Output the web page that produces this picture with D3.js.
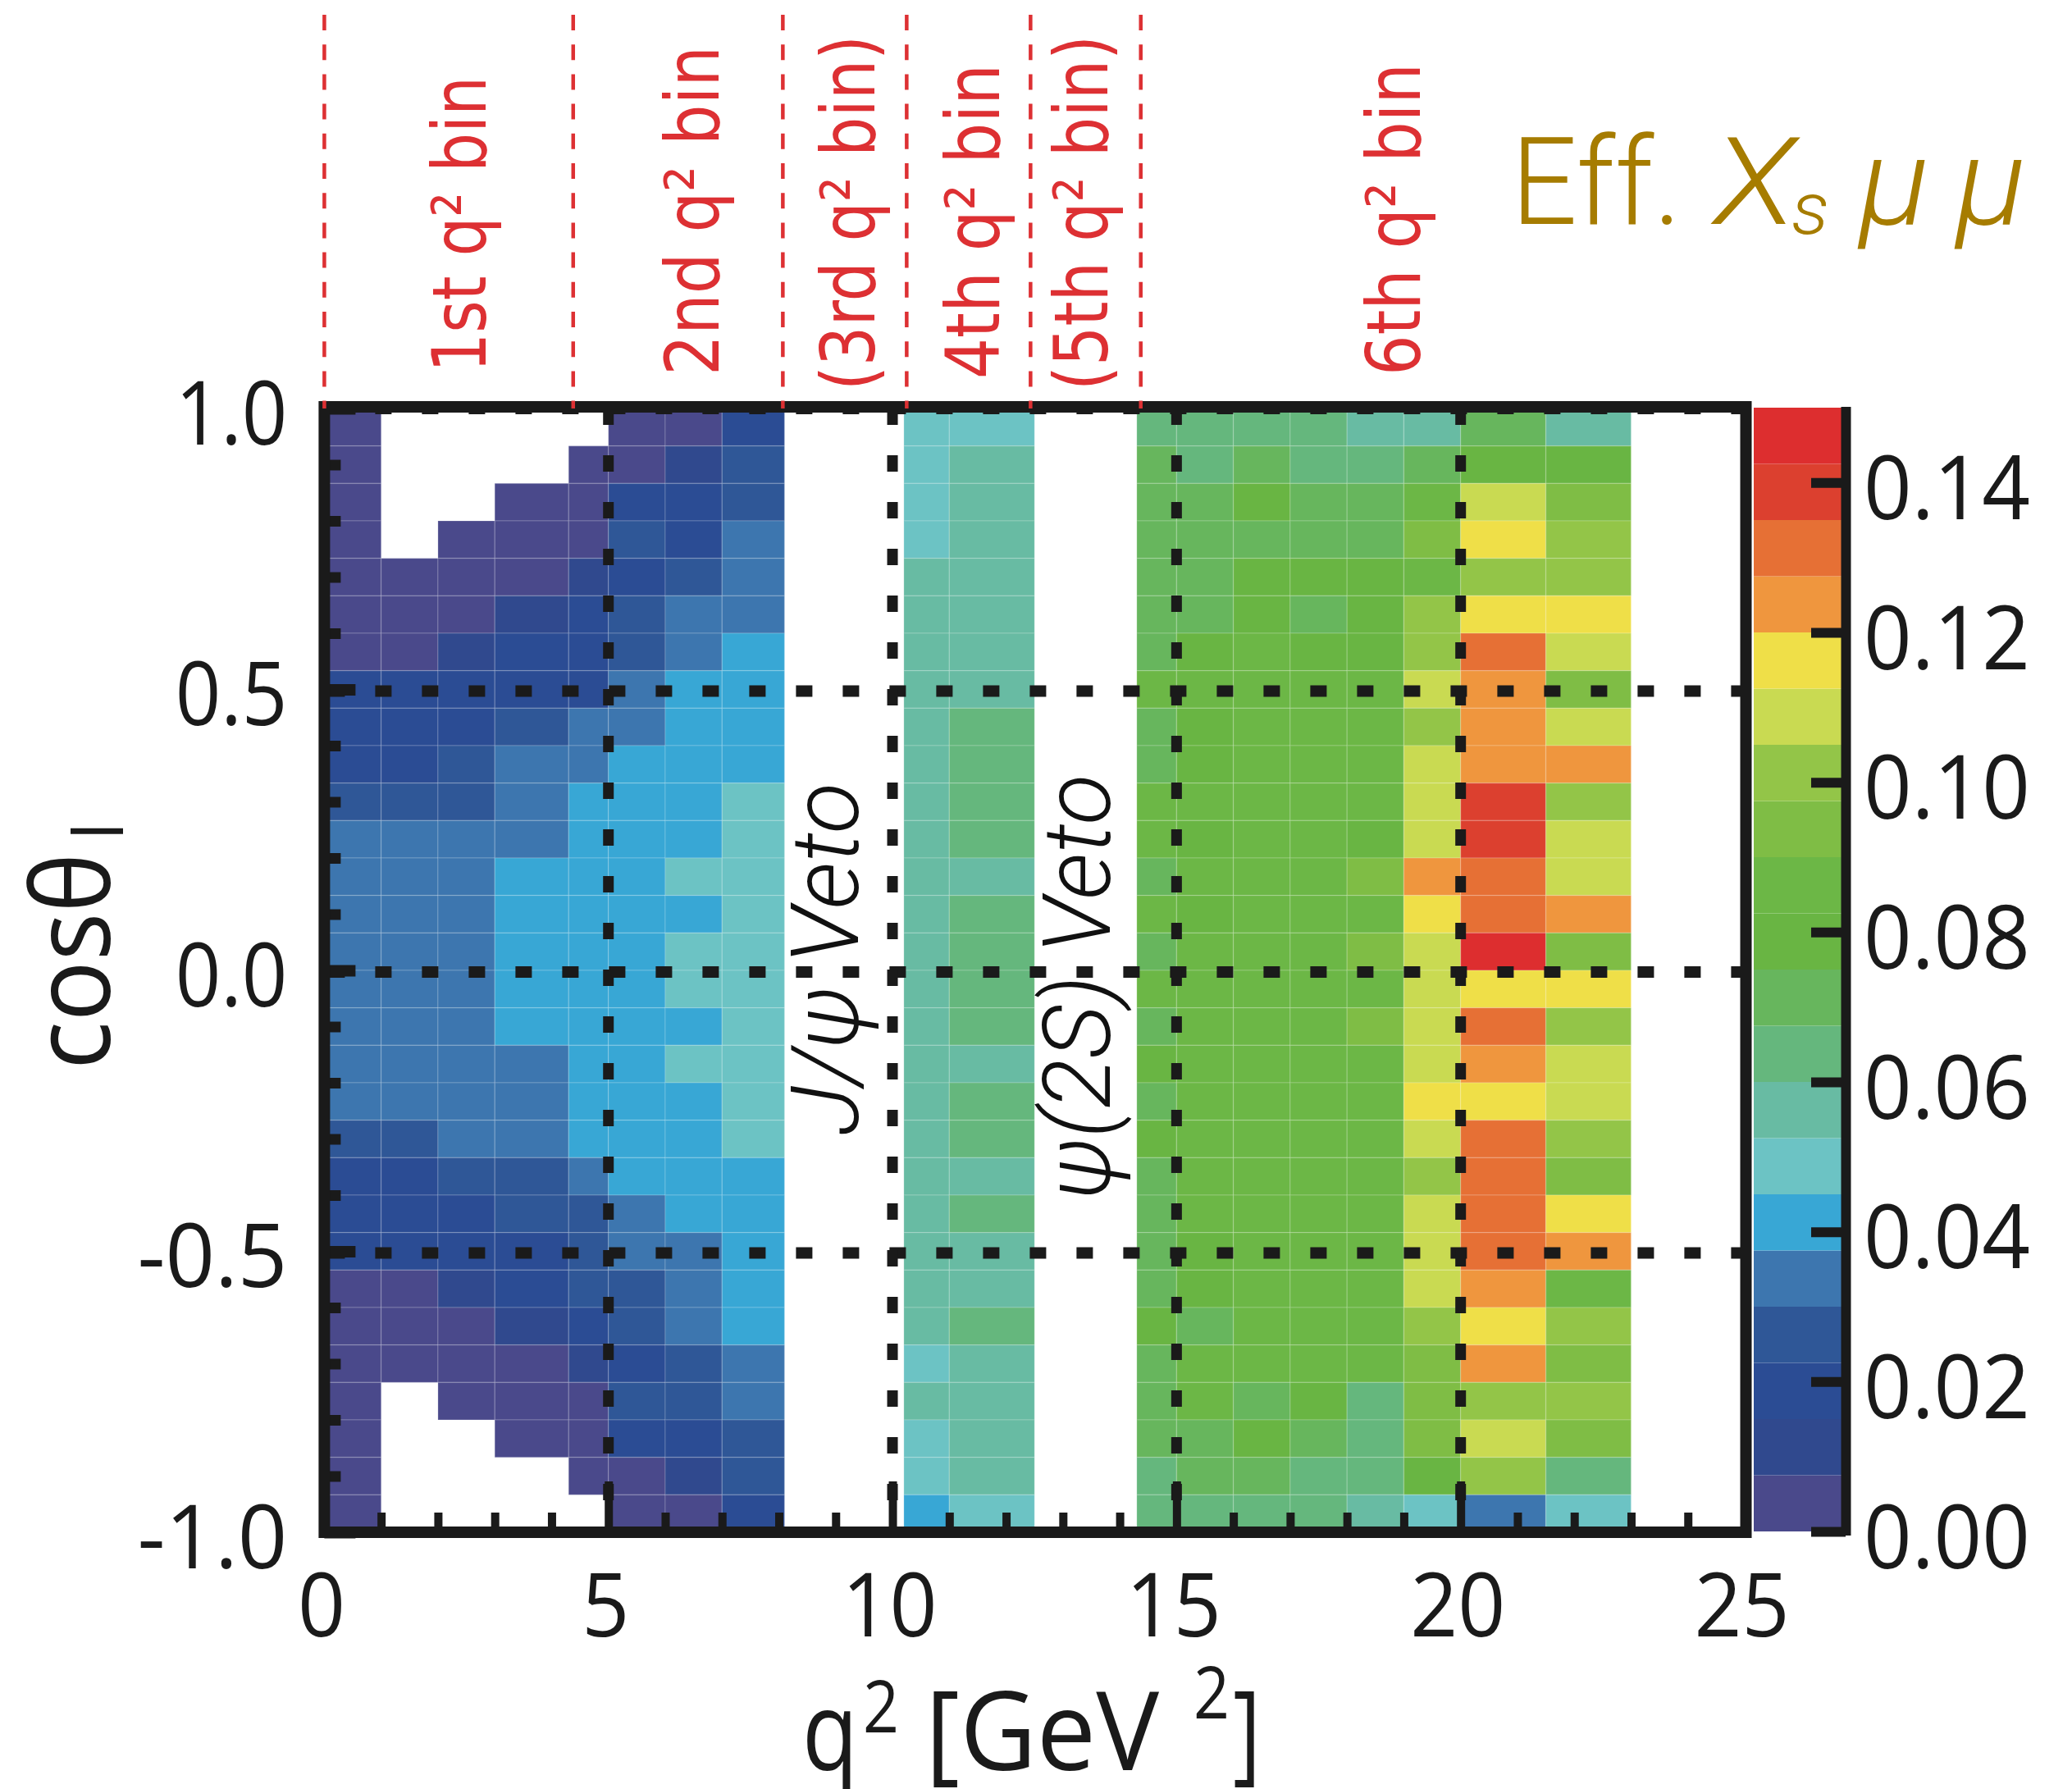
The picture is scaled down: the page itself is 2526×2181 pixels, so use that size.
<!DOCTYPE html>
<html>
<head>
<meta charset="utf-8">
<script src="https://cdn.jsdelivr.net/npm/d3@7"></script>
<style>
  html, body { margin: 0; padding: 0; background: #fff; }
  svg { display: block; }
</style>
</head>
<body>
<div id="app"></div>
<script>
// q2 bin edges of the heat map columns (8.1-10.2 and 12.5-14.3 are the vetoed regions)
const qLow  = [0, 1, 2, 3, 4.3, 5, 6, 7, 10.2, 11, 14.3, 15, 16, 17, 18, 19, 20, 21.5];
const qHigh = [1, 2, 3, 4.3, 5, 6, 7, 8.1, 11, 12.5, 15, 16, 17, 18, 19, 20, 21.5, 23];

// efficiency per column, top row (cos = 1) first, null = no entry
const _ = null;
const col0 = [.004,.004,.004,.004,.004,.004,.004,.019,.019,.019,.026,.034,.034,.034,.034,.034,.034,.034,.034,.026,.019,.019,.019,.004,.004,.004,.004,.004,.004,.004];
const col1 = [_,_,_,_,.004,.004,.004,.019,.019,.019,.026,.034,.034,.034,.034,.034,.034,.034,.034,.026,.019,.019,.019,.004,.004,.004,_,_,_,_];
const col2 = [_,_,_,.004,.004,.004,.011,.019,.019,.026,.026,.034,.034,.034,.034,.034,.034,.034,.034,.034,.026,.019,.019,.011,.004,.004,.004,_,_,_];
const col3 = [_,_,.004,.004,.004,.011,.019,.019,.026,.034,.034,.034,.041,.041,.041,.041,.041,.034,.034,.034,.026,.026,.019,.019,.011,.004,.004,.004,_,_];
const col4 = [_,.004,.004,.004,.011,.019,.019,.019,.034,.034,.041,.041,.041,.041,.041,.041,.041,.041,.041,.041,.034,.026,.026,.026,.019,.011,.004,.004,.004,_];
const col5 = [.004,.004,.019,.026,.019,.026,.026,.034,.034,.041,.041,.041,.041,.041,.041,.041,.041,.041,.041,.041,.041,.034,.034,.026,.026,.019,.026,.019,.004,.004];
const col6 = [.004,.011,.019,.019,.026,.034,.034,.041,.041,.041,.041,.041,.049,.041,.049,.049,.041,.049,.041,.041,.041,.041,.034,.034,.034,.026,.026,.019,.011,.004];
const col7 = [.019,.026,.026,.034,.034,.034,.041,.041,.041,.041,.049,.049,.049,.049,.049,.049,.049,.049,.049,.049,.041,.041,.041,.041,.041,.034,.034,.026,.026,.019];
const col8 = [.049,.049,.049,.049,.056,.056,.056,.056,.056,.056,.056,.056,.056,.056,.056,.056,.056,.056,.056,.056,.056,.056,.056,.056,.056,.049,.056,.049,.049,.041];
const col9 = [.049,.056,.056,.056,.056,.056,.056,.056,.064,.064,.064,.064,.056,.064,.064,.064,.064,.056,.064,.064,.056,.064,.056,.056,.064,.056,.056,.056,.056,.049];
const col10 = [.064,.071,.071,.071,.071,.071,.071,.086,.071,.071,.086,.086,.071,.086,.071,.086,.071,.079,.071,.079,.071,.071,.071,.071,.079,.071,.071,.071,.064,.064];
const col11 = [.064,.064,.071,.071,.071,.071,.079,.086,.079,.079,.086,.079,.086,.079,.086,.086,.086,.086,.086,.086,.086,.086,.079,.079,.071,.086,.086,.071,.071,.064];
const col12 = [.064,.071,.079,.071,.079,.079,.086,.086,.086,.086,.086,.086,.086,.086,.086,.086,.086,.086,.086,.086,.086,.086,.086,.086,.086,.086,.071,.079,.071,.064];
const col13 = [.064,.064,.071,.071,.079,.071,.079,.086,.086,.086,.086,.086,.086,.086,.086,.086,.086,.086,.086,.086,.086,.086,.086,.086,.086,.086,.079,.071,.064,.064];
const col14 = [.056,.064,.071,.071,.079,.079,.079,.086,.086,.086,.086,.079,.094,.086,.094,.086,.094,.086,.086,.086,.086,.086,.086,.086,.086,.086,.064,.064,.064,.056];
const col15 = [.056,.071,.086,.094,.086,.101,.101,.109,.101,.109,.109,.109,.124,.116,.109,.109,.109,.109,.116,.109,.101,.109,.109,.109,.101,.094,.094,.094,.079,.049];
const col16 = [.071,.079,.109,.116,.101,.116,.131,.124,.124,.124,.139,.139,.131,.131,.146,.116,.131,.124,.116,.131,.131,.131,.131,.124,.116,.124,.101,.109,.101,.034];
const col17 = [.056,.079,.094,.101,.101,.116,.109,.094,.109,.124,.101,.109,.109,.124,.094,.116,.101,.109,.109,.101,.094,.116,.124,.086,.101,.094,.101,.094,.064,.049];
const columns = [col0, col1, col2, col3, col4, col5, col6, col7, col8, col9, col10, col11, col12, col13, col14, col15, col16, col17];

// colour bands, low to high
const bandColors = ['#4a498b','#30498e','#2b4c94','#2f5797','#3d76af','#38a7d5','#6cc3c4','#68bba3','#65b77d','#67b65d',
                    '#69b543','#6cb746','#7fbd45','#93c548','#c9da52','#efdf48','#ef963e','#e67035','#dc402f','#dd2e2f'];

const xTicks = [0, 5, 10, 15, 20, 25];
const yTicks = [1, 0.5, 0, -0.5, -1];
const barTicks = [0, 0.02, 0.04, 0.06, 0.08, 0.1, 0.12, 0.14];
const binBoundaries = [0, 4.38, 8.07, 10.25, 12.43, 14.37];
const dottedX = [5, 10, 15, 20];
const dottedY = [1, 0.5, 0, -0.5];

const binLabels = ['1st q\u00b2 bin', '2nd q\u00b2 bin', '(3rd q\u00b2 bin)', '4th q\u00b2 bin', '(5th q\u00b2 bin)', '6th q\u00b2 bin'];
const binLabelX = [592, 876, 1066, 1218, 1350, 1731];
const binLabelY = [454, 458, 476, 462, 476, 458];
const binLabelLen = [361, 402, 433, 384, 433, 381];

const width = 2526, height = 2181;
const black = '#1a1a1a', red = '#dd3033', gold = '#a67c00';
const labelFont = '"Open Sans", sans-serif';
const thinFont = 'Roboto, "Open Sans", sans-serif';

const svg = d3.select('#app').append('svg').attr('width', width).attr('height', height);

const x = d3.scaleLinear().domain([0, 25]).range([395.4, 2127]);
const y = d3.scaleLinear().domain([-1, 1]).range([1868, 498]);
const barY = d3.scaleLinear().domain([0, 0.15]).range([1867, 497]);
const color = d3.scaleQuantize().domain([0, 0.15]).range(bandColors);

// squeeze a text along its reading direction, the original picture is resized unevenly
const squeeze = (sel, k) => sel.each(function () {
    d3.select(this).attr('textLength', this.getComputedTextLength() * k).attr('lengthAdjust', 'spacingAndGlyphs');
});

// heat map cells
const nRows = col0.length;
const rowH = 2 / nRows;
const cells = columns.flatMap((col, c) => col.map((v, r) => ({ c, r, v }))).filter(d => d.v !== null);
svg.append('g').selectAll('rect').data(cells).join('rect')
    .attr('x', d => x(qLow[d.c]))
    .attr('width', d => x(qHigh[d.c]) - x(qLow[d.c]))
    .attr('y', d => y(1 - d.r * rowH))
    .attr('height', d => y(1 - (d.r + 1) * rowH) - y(1 - d.r * rowH))
    .attr('fill', d => color(d.v))
    .attr('stroke', '#fff').attr('stroke-opacity', 0.14).attr('stroke-width', 1.5);

// veto labels sit under the dotted lines
const vetoText = (label, bx, by, len) => svg.append('text')
    .attr('transform', `translate(${bx},${by}) rotate(-90)`)
    .attr('font-family', thinFont).attr('font-style', 'italic').attr('font-weight', 300)
    .attr('font-size', 114).attr('fill', '#111')
    .attr('textLength', len).attr('lengthAdjust', 'spacingAndGlyphs')
    .text(label);
vetoText('J/\u03c8 Veto', 1046, 1384, 430);
vetoText('\u03c8(2S) Veto', 1353, 1462, 518);

// dotted grid, the inner rows sit a touch lower in the original
const dotY = d => y(d) + (d === 1 ? 0 : 2);
svg.append('g').selectAll('line').data(dottedY).join('line')
    .attr('x1', x(0)).attr('x2', x(25))
    .attr('y1', dotY).attr('y2', dotY)
    .attr('stroke', black).attr('stroke-width', 14)
    .attr('stroke-dasharray', '20 37').attr('stroke-dashoffset', 52);
svg.append('g').selectAll('line').data(dottedX).join('line')
    .attr('x1', d => x(d)).attr('x2', d => x(d))
    .attr('y1', y(1)).attr('y2', y(-1))
    .attr('stroke', black).attr('stroke-width', 13)
    .attr('stroke-dasharray', '20 37').attr('stroke-dashoffset', 0);

// axes: inward minor and major ticks
const tickStyle = (g, w) => {
    g.select('.domain').remove();
    g.selectAll('line').attr('stroke', black).attr('stroke-width', w);
};
const xMinor = d3.range(0, 26).filter(d => d % 5 !== 0);
svg.append('g').attr('transform', `translate(0,${y(-1)})`)
    .call(d3.axisBottom(x).tickValues(xMinor).tickSize(-24).tickFormat(''))
    .call(tickStyle, 10);
const xAxis = svg.append('g').attr('transform', `translate(0,${y(-1)})`)
    .call(d3.axisBottom(x).tickValues(xTicks).tickSize(-62).tickFormat(d3.format('d')))
    .call(tickStyle, 10);
xAxis.selectAll('text')
    .attr('y', 127).attr('dy', 0).attr('x', -4)
    .attr('font-family', labelFont).attr('font-size', 108).attr('fill', black)
    .call(squeeze, 0.94);

const yMinor = d3.range(-9, 10).map(d => d / 10).filter(d => d % 0.5 !== 0);
svg.append('g').attr('transform', `translate(${x(0)},0)`)
    .call(d3.axisLeft(y).tickValues(yMinor).tickSize(-20).tickFormat(''))
    .call(tickStyle, 13);
const yAxis = svg.append('g').attr('transform', `translate(${x(0)},0)`)
    .call(d3.axisLeft(y).tickValues(yTicks).tickSize(-38).tickFormat(d => d.toFixed(1)))
    .call(tickStyle, 14);
yAxis.selectAll('text')
    .attr('x', -45).attr('y', 43).attr('dy', 0)
    .attr('text-anchor', 'end')
    .attr('font-family', labelFont).attr('font-size', 108).attr('fill', black)
    .each(function (d) { d3.select(this).call(squeeze, d < 0 ? 0.98 : 0.9); });

// frame
svg.append('rect')
    .attr('x', x(0)).attr('y', 496)
    .attr('width', 2128.5 - x(0)).attr('height', y(-1) - 496)
    .attr('fill', 'none').attr('stroke', black).attr('stroke-width', 14);

// colour bar
svg.append('g').selectAll('rect').data(bandColors).join('rect')
    .attr('x', 2138).attr('width', 107)
    .attr('y', d => barY(color.invertExtent(d)[1]))
    .attr('height', d => barY(color.invertExtent(d)[0]) - barY(color.invertExtent(d)[1]))
    .attr('fill', d => d);
const barAxis = svg.append('g').attr('transform', 'translate(2250,0)')
    .call(d3.axisRight(barY).tickValues(barTicks).tickSize(-42).tickFormat(d3.format('.2f')));
barAxis.select('.domain').remove();
barAxis.selectAll('line').attr('stroke', black).attr('stroke-width', 12);
barAxis.selectAll('text')
    .attr('x', 22).attr('y', 44).attr('dy', 0)
    .attr('font-family', labelFont).attr('font-size', 108).attr('fill', black)
    .call(squeeze, 0.95);
svg.append('line')
    .attr('x1', 2250.5).attr('x2', 2250.5).attr('y1', 496).attr('y2', 1872)
    .attr('stroke', black).attr('stroke-width', 12);

// red q2 bin markers and labels
svg.append('g').selectAll('line').data(binBoundaries).join('line')
    .attr('x1', d => x(d)).attr('x2', d => x(d))
    .attr('y1', 18).attr('y2', 498)
    .attr('stroke', red).attr('stroke-width', 4.5)
    .attr('stroke-dasharray', '19 17.2');
svg.append('g').selectAll('text').data(binLabels).join('text')
    .attr('transform', (d, i) => `translate(${binLabelX[i]},${binLabelY[i]}) rotate(-90)`)
    .attr('font-family', '"DejaVu Sans", sans-serif').attr('font-size', 90).attr('fill', red)
    .attr('textLength', (d, i) => binLabelLen[i]).attr('lengthAdjust', 'spacingAndGlyphs')
    .text(d => d);

// title
const titleBits = [
    { s: 'Eff.', px: 1842, py: 273, fs: 148, it: false, len: 208 },
    { s: 'X', px: 2089, py: 273, fs: 148, it: true, len: 100 },
    { s: 's', px: 2184, py: 285, fs: 88, it: true, len: 46 },
    { s: '\u03bc', px: 2266, py: 273, fs: 148, it: true, len: 86 },
    { s: '\u03bc', px: 2384, py: 273, fs: 148, it: true, len: 86 }
];
svg.append('g').selectAll('text').data(titleBits).join('text')
    .attr('x', d => d.px).attr('y', d => d.py)
    .attr('font-family', thinFont).attr('font-weight', 300)
    .attr('font-style', d => d.it ? 'italic' : 'normal')
    .attr('font-size', d => d.fs).attr('fill', gold)
    .attr('textLength', d => d.len).attr('lengthAdjust', 'spacingAndGlyphs')
    .text(d => d.s);

// x axis title
const xTitleBits = [
    { s: 'q', px: 978, py: 2158, fs: 133, len: 68 },
    { s: '2', px: 1052, py: 2112, fs: 88, len: 44 },
    { s: '[GeV', px: 1128, py: 2158, fs: 133, len: 285 },
    { s: '2', px: 1455, py: 2095, fs: 88, len: 44 },
    { s: ']', px: 1503, py: 2158, fs: 133, len: 34 }
];
svg.append('g').selectAll('text').data(xTitleBits).join('text')
    .attr('x', d => d.px).attr('y', d => d.py)
    .attr('font-family', labelFont).attr('font-size', d => d.fs).attr('fill', black)
    .attr('textLength', d => d.len).attr('lengthAdjust', 'spacingAndGlyphs')
    .text(d => d.s);

// y axis title
svg.append('text')
    .attr('transform', 'translate(134,1304) rotate(-90)')
    .attr('font-family', labelFont).attr('font-size', 131).attr('fill', black)
    .attr('textLength', 264).attr('lengthAdjust', 'spacingAndGlyphs')
    .text('cos\u03b8');
svg.append('text')
    .attr('transform', 'translate(150,1024) rotate(-90)')
    .attr('font-family', labelFont).attr('font-size', 85).attr('fill', black)
    .text('l');
</script>
</body>
</html>
